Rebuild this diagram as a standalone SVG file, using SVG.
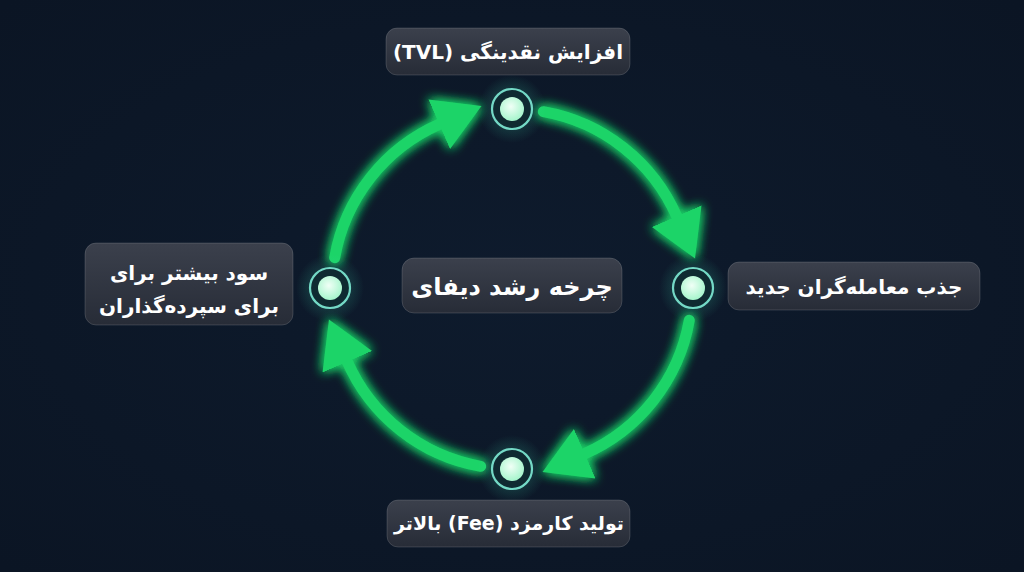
<svg xmlns="http://www.w3.org/2000/svg" width="1024" height="572" viewBox="0 0 1024 572">
  <defs>
    <radialGradient id="bg" cx="50%" cy="50%" r="70%">
      <stop offset="0" stop-color="#0e1b2d"/>
      <stop offset="1" stop-color="#0b1524"/>
    </radialGradient>
    <linearGradient id="box" x1="0" y1="0" x2="0" y2="1">
      <stop offset="0" stop-color="#3b404c"/>
      <stop offset="1" stop-color="#272c37"/>
    </linearGradient>
    <radialGradient id="dot" cx="45%" cy="40%" r="60%">
      <stop offset="0" stop-color="#f0fff6"/>
      <stop offset="1" stop-color="#a6f5cc"/>
    </radialGradient>
    <radialGradient id="halo" cx="50%" cy="50%" r="50%">
      <stop offset="0" stop-color="#3fe0b0" stop-opacity="0.35"/>
      <stop offset="1" stop-color="#3fe0b0" stop-opacity="0"/>
    </radialGradient>
    <filter id="glow" x="-30%" y="-30%" width="160%" height="160%">
      <feGaussianBlur in="SourceGraphic" stdDeviation="6" result="b"/>
      <feMerge>
        <feMergeNode in="b"/>
        <feMergeNode in="b"/>
        <feMergeNode in="SourceGraphic"/>
      </feMerge>
    </filter>
    <marker id="head" viewBox="0 -28 48 56" markerWidth="48" markerHeight="56" refX="1" refY="0" orient="auto" markerUnits="userSpaceOnUse">
      <path d="M0,-27 L46,0 L0,27 Z" fill="#1fd468"/>
    </marker>
    <style>
      .arc { fill: none; stroke: #1fd468; stroke-width: 11; stroke-linecap: round; marker-end: url(#head); }
      .ring { fill: #0f2a31; stroke: #74d9c6; stroke-width: 2.2; }
      .core { fill: url(#dot); }
      .halo { fill: url(#halo); }
      .lbl { fill: url(#box); stroke: #ffffff; stroke-opacity: 0.14; stroke-width: 1; }
      .t { fill: #ffffff; font-family: "DejaVu Sans", "Noto Sans", sans-serif; font-weight: bold; font-size: 20px; text-anchor: middle; direction: rtl; }
      .tc { font-size: 24px; }
      .ts { font-size: 19px; }
    </style>
  </defs>

  <rect x="0" y="0" width="1024" height="572" fill="url(#bg)"/>

  <g id="connectors" filter="url(#glow)">
    <path class="arc" d="M543.3,111.7 A180,180 0 0 1 677.1,217.2"/>
    <path class="arc" d="M689.3,320.3 A180,180 0 0 1 583.8,454.1"/>
    <path class="arc" d="M480.7,466.3 A180,180 0 0 1 346.9,360.8"/>
    <path class="arc" d="M334.7,257.7 A180,180 0 0 1 440.2,123.9"/>
  </g>

  <g id="node-top">
    <circle class="halo" cx="512" cy="109" r="34"/>
    <circle class="ring" cx="512" cy="109" r="20"/>
    <circle class="core" cx="512" cy="109" r="12"/>
    <rect class="lbl" x="386" y="28" width="244" height="47" rx="11"/>
    <text class="t" x="508" y="59">افزایش نقدینگی (TVL)</text>
  </g>

  <g id="node-right">
    <circle class="halo" cx="693" cy="288" r="34"/>
    <circle class="ring" cx="693" cy="288" r="20"/>
    <circle class="core" cx="693" cy="288" r="12"/>
    <rect class="lbl" x="728" y="262" width="252" height="48" rx="11"/>
    <text class="t" x="854" y="294">جذب معامله‌گران جدید</text>
  </g>

  <g id="node-bottom">
    <circle class="halo" cx="512" cy="469" r="34"/>
    <circle class="ring" cx="512" cy="469" r="20"/>
    <circle class="core" cx="512" cy="469" r="12"/>
    <rect class="lbl" x="387" y="500" width="243" height="47" rx="11"/>
    <text class="t ts" x="509" y="530">تولید کارمزد (Fee) بالاتر</text>
  </g>

  <g id="node-left">
    <circle class="halo" cx="330" cy="288" r="34"/>
    <circle class="ring" cx="330" cy="288" r="20"/>
    <circle class="core" cx="330" cy="288" r="12"/>
    <rect class="lbl" x="85" y="243" width="208" height="82" rx="11"/>
    <text class="t" x="189" y="280">سود بیشتر برای</text>
    <text class="t" x="189" y="313">برای سپرده‌گذاران</text>
  </g>

  <g id="center">
    <rect class="lbl" x="402" y="258" width="220" height="55" rx="12"/>
    <text class="t tc" x="512" y="295">چرخه رشد دیفای</text>
  </g>
</svg>
